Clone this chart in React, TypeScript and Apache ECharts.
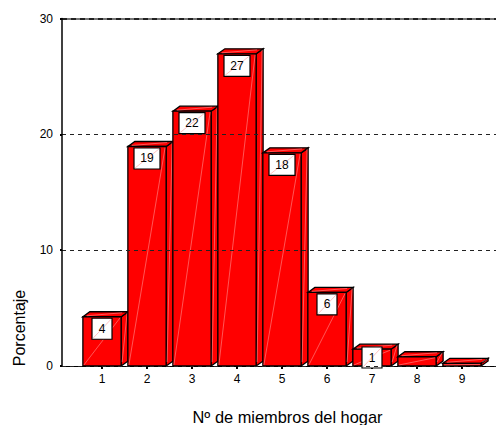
import React, { useEffect, useRef } from "react";
import * as echarts from "echarts";

const categories = [1, 2, 3, 4, 5, 6, 7, 8, 9];
const percentages = [4.25, 18.95, 22.0, 26.95, 18.4, 6.35, 1.45, 0.8, 0.23];
const barLabels = ["4", "19", "22", "27", "18", "6", "1", "", ""];
const yTicks = [0, 10, 20, 30];
const yMax = 30;
const xTitle = "Nº de miembros del hogar";
const yTitle = "Porcentaje";

const FONT = '"Liberation Sans", Arial, sans-serif';
const streak = "rgba(255,190,190,0.45)";

function renderBar(params: any, api: any) {
  const cat = api.value(0);
  const val = api.value(1);
  const label = barLabels[params.dataIndex];
  const [cx, top] = api.coord([cat, val]);
  const [, base] = api.coord([cat, 0]);
  const w = api.size([1, 0])[0] * 0.85;
  const dx = 7;
  const dy = 5;
  const l = cx - w / 2;
  const r = cx + w / 2;
  const barStyle = { fill: "#ff0000", stroke: "#000", lineWidth: 1.3 };
  const children: any[] = [
    {
      type: "polygon",
      shape: { points: [[r, base], [r + dx, base - dy], [r + dx, top - dy], [r, top]] },
      style: barStyle,
    },
    {
      type: "polygon",
      shape: { points: [[l, top], [l + dx, top - dy], [r + dx, top - dy], [r, top]] },
      style: barStyle,
    },
    {
      type: "rect",
      shape: { x: l, y: top, width: w, height: base - top },
      style: barStyle,
    },
    { type: "line", shape: { x1: l + 1, y1: base - 1, x2: r - 1, y2: top + 1 }, style: { stroke: streak, lineWidth: 1 } },
    { type: "line", shape: { x1: r + 1, y1: base - 4, x2: r + dx - 1, y2: top - dy + 1 }, style: { stroke: streak, lineWidth: 1 } },
    { type: "line", shape: { x1: l + dx - 3, y1: top - 1, x2: r + 1, y2: top - dy + 1 }, style: { stroke: streak, lineWidth: 1 } },
  ];
  if (label) {
    const bw = label.length > 1 ? 26 : 20;
    const bh = 21;
    const by = Math.min(top + 1.5, base + 2 - bh);
    const bx = cx - bw / 2;
    children.push(
      {
        type: "rect",
        shape: { x: bx, y: by, width: bw, height: bh },
        style: { fill: "#fff", stroke: "#000", lineWidth: 1.2 },
      },
      {
        type: "line",
        shape: { x1: bx + 1, y1: by + bh - 1, x2: bx + bw - 1, y2: by + 1 },
        style: { stroke: "rgba(255,170,170,0.7)", lineWidth: 1 },
      },
      {
        type: "text",
        style: {
          x: cx,
          y: by + bh / 2,
          text: label,
          fill: "#000",
          font: `12px ${FONT}`,
          align: "center",
          verticalAlign: "middle",
        },
      }
    );
  }
  return { type: "group", children };
}

export default function App() {
  const ref = useRef<HTMLDivElement>(null);
  useEffect(() => {
    document.body.style.margin = "0";
    const chart = echarts.init(ref.current!, null, { renderer: "svg" });
    chart.setOption({
      animation: false,
      backgroundColor: "#fff",
      grid: { left: 62, right: 0, top: 18.5, bottom: 59 },
      xAxis: {
        type: "value",
        min: 0.111,
        max: 9.756,
        splitLine: { show: false },
        axisLine: { show: true, lineStyle: { color: "#000", width: 1 }, onZero: false },
        axisTick: { show: true, customValues: categories, length: 3, lineStyle: { color: "#000", width: 2 } },
        axisLabel: {
          customValues: categories,
          color: "#000",
          fontFamily: FONT,
          fontSize: 12,
          margin: 7,
          formatter: (v: number) => String(v),
        },
      },
      yAxis: {
        type: "value",
        min: 0,
        max: yMax,
        interval: 10,
        z: 5,
        axisLine: { show: true, lineStyle: { color: "#000", width: 1.5 } },
        axisTick: { show: true, length: 2, lineStyle: { color: "#000", width: 2 } },
        axisLabel: {
          color: "#000",
          fontFamily: FONT,
          fontSize: 12,
          margin: 9,
          customValues: yTicks,
        },
        splitLine: {
          show: true,
          lineStyle: { color: "#222", type: [4, 4], width: 1 },
        },
      },
      series: [
        {
          type: "custom",
          z: 2,
          clip: false,
          renderItem: renderBar,
          encode: { x: 0, y: 1 },
          data: categories.map((c, i) => [c, percentages[i]]),
          markLine: {
            silent: true,
            animation: false,
            symbol: "none",
            label: { show: false },
            data: [
              { yAxis: yMax, lineStyle: { color: "#777", type: "solid", width: 2 } },
              { yAxis: yMax, lineStyle: { color: "#222", type: [5, 4], width: 2 } },
            ],
          },
        },
      ],
      graphic: [
        {
          type: "text",
          x: 287.5,
          y: 417,
          style: { text: xTitle, fill: "#000", font: `16.4px ${FONT}`, align: "center", verticalAlign: "middle" },
        },
        {
          type: "text",
          x: 19,
          y: 328,
          rotation: Math.PI / 2,
          style: { text: yTitle, fill: "#000", font: `16px ${FONT}`, align: "center", verticalAlign: "middle" },
        },
      ],
    });
    return () => chart.dispose();
  }, []);
  return <div ref={ref} style={{ width: 496, height: 425 }} />;
}
